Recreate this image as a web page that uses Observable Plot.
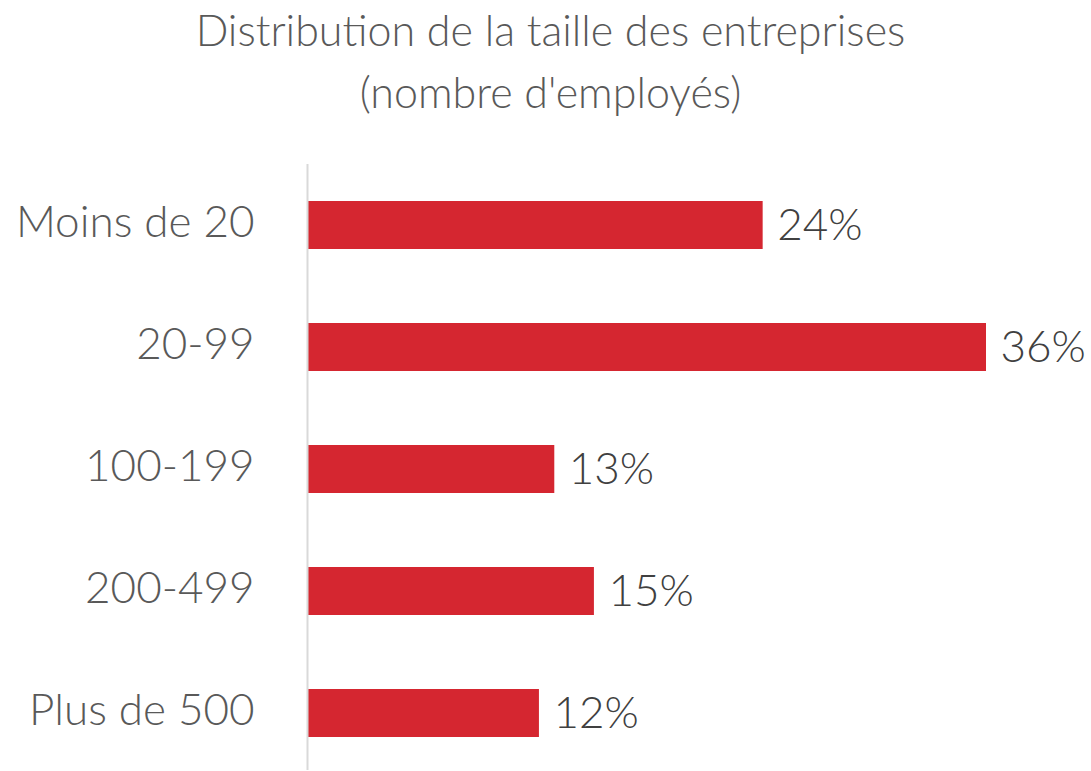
<!DOCTYPE html>
<html>
<head>
<meta charset="utf-8">
<script src="https://cdn.jsdelivr.net/npm/d3@7"></script>
<script src="https://cdn.jsdelivr.net/npm/@observablehq/plot@0.6"></script>
<style>
  html, body { margin: 0; padding: 0; background: #fff; }
  #title { width: 1091px; height: 150px; box-sizing: border-box; padding-top: 0px; padding-left: 10px;
    text-align: center; font-family: Lato, sans-serif; font-weight: 300; font-size: 43px; line-height: 62px; color: #595959; margin-top: -1px; }
  #chart svg { display: block; }
</style>
</head>
<body>
<div id="title">Distribution de la taille des entreprises<br>(nombre d'employés)</div>
<div id="chart"></div>
<script>
const categories = ["Moins de 20", "20-99", "100-199", "200-499", "Plus de 500"];
const shares = [23.98, 35.76, 12.99, 15.08, 12.18];

const data = categories.map((c, i) => ({category: c, value: shares[i]}));

const chart = Plot.plot({
  width: 1091,
  height: 621,
  marginTop: 15,
  marginBottom: -4,
  marginLeft: 308,
  marginRight: 105,
  style: {fontFamily: "Lato, sans-serif", fontWeight: 300, background: "#fff", overflow: "visible"},
  x: {domain: [0, d3.max(shares)], axis: null},
  y: {domain: categories, paddingInner: 0.603, paddingOuter: 0.2925, label: null, axis: null},
  marks: [
    Plot.barX(data, {x: "value", y: "category", fill: "#d52630"}),
    Plot.ruleX([0], {stroke: "#d9d9d9", strokeWidth: 2, dx: -1}),
    Plot.text(data, {x: "value", y: "category", text: d => Math.round(d.value) + "%", textAnchor: "start", dx: 14, fontSize: 44, fill: "#404040"}),
    Plot.axisY({tickSize: 0, tickPadding: 54, fontSize: 44, color: "#595959", label: null, dy: -3})
  ]
});
document.getElementById("chart").appendChild(chart);
</script>
</body>
</html>
